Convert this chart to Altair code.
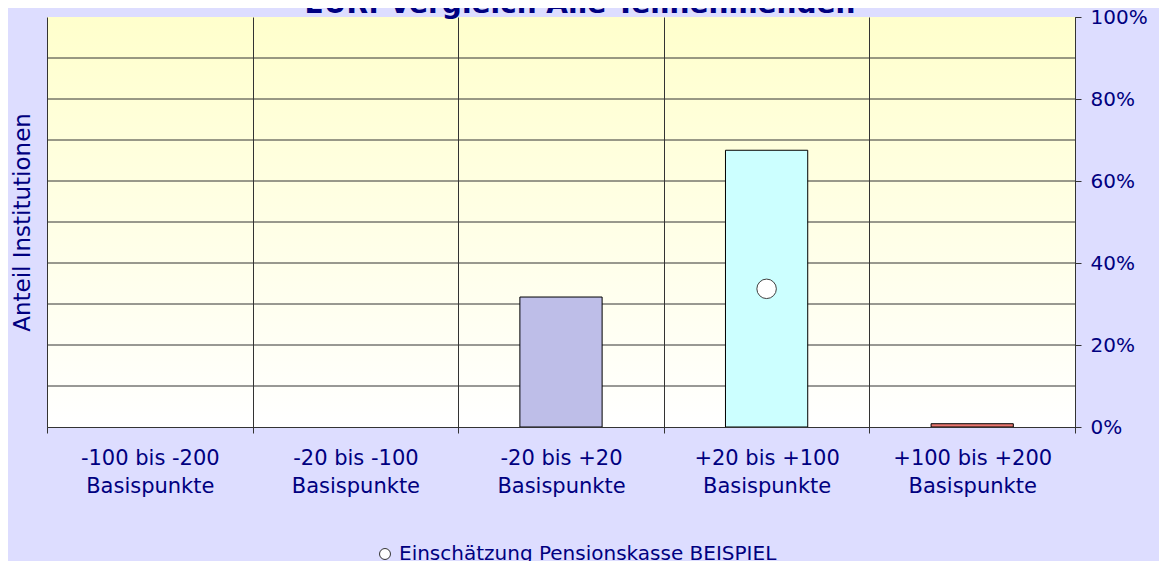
import altair as alt
import pandas as pd

# ---- data ----
chart_title = ["EUR: Vergleich Alle Teilnehmenden"]
categories = [
    "-100 bis -200 Basispunkte",
    "-20 bis -100 Basispunkte",
    "-20 bis +20 Basispunkte",
    "+20 bis +100 Basispunkte",
    "+100 bis +200 Basispunkte",
]
shares = [0.0, 0.0, 0.317, 0.675, 0.008]
bar_colors = ["#9999FF", "#993366", "#BEBEE8", "#CCFFFF", "#E9766F"]

estimate_category = ["+20 bis +100 Basispunkte"]
estimate_value = [0.337]
series_name = ["Einschätzung Pensionskasse BEISPIEL"]

grid_levels = [0.1, 0.2, 0.3, 0.4, 0.5, 0.6, 0.7, 0.8, 0.9]
label_ticks = [0.0, 0.2, 0.4, 0.6, 0.8, 1.0]

TEXT = "#000080"
FONT = "DejaVu Sans"
GRID = "#333333"
W, H = 1028, 410

bars_df = pd.DataFrame({"category": categories, "value": shares})
est_df = pd.DataFrame({"category": estimate_category, "value": estimate_value, "series": series_name})
grid_df = pd.DataFrame({"value": grid_levels})
title_df = pd.DataFrame({"title": chart_title})

x_scale = alt.Scale(domain=categories, paddingInner=0, paddingOuter=0)
y_scale = alt.Scale(domain=[0, 1], nice=False)

x_axis = alt.Axis(
    title=None,
    grid=True,
    gridColor=GRID,
    gridOpacity=1,
    gridWidth=1,
    tickBand="extent",
    tickSize=6,
    tickColor=GRID,
    domainColor=GRID,
    labelAngle=0,
    labelFont=FONT,
    labelFontSize=21,
    labelColor=TEXT,
    labelLineHeight=28,
    labelPadding=14,
    labelExpr=(
        "indexof(datum.label, ' Basispunkte') >= 0 ? "
        "[slice(datum.label, 0, indexof(datum.label, ' Basispunkte')), 'Basispunkte'] : datum.label"
    ),
    zindex=1,
)
y_axis = alt.Axis(
    orient="right",
    values=label_ticks,
    format=".0%",
    grid=False,
    tickSize=6,
    tickColor=GRID,
    domainColor=GRID,
    labelFont=FONT,
    labelFontSize=20,
    labelColor=TEXT,
    labelPadding=9,
    title="Anteil Institutionen",
    titleFont=FONT,
    titleFontSize=23,
    titleFontWeight="normal",
    titleColor=TEXT,
    titleAngle=270,
    titleAlign="center",
    titleBaseline="middle",
    titleX=-1053,
    titleY=205,
    zindex=1,
)

X = alt.X("category:N", scale=x_scale, axis=x_axis, sort=categories)
Y = alt.Y("value:Q", scale=y_scale, axis=y_axis)

bg = alt.Chart(pd.DataFrame({"a": [0]})).mark_rect(
    color=alt.Gradient(
        gradient="linear", x1=0, y1=0, x2=0, y2=1,
        stops=[alt.GradientStop(color="#FFFFCC", offset=0),
               alt.GradientStop(color="#FFFFFF", offset=1)],
    )
).encode(x=alt.value(0), x2=alt.value(W), y=alt.value(0), y2=alt.value(H))

hgrid = alt.Chart(grid_df).mark_rule(color=GRID, strokeWidth=1).encode(y=Y)

bars = alt.Chart(bars_df).transform_filter("datum.value > 0").mark_bar(
    stroke="black", strokeWidth=1, width=alt.RelativeBandSize(0.4)
).encode(
    x=X,
    y=Y,
    color=alt.Color("category:N", scale=alt.Scale(domain=categories, range=bar_colors), legend=None),
)

point = alt.Chart(est_df).mark_point(
    filled=True, shape="circle", size=380, stroke="#404040", strokeWidth=1, opacity=1
).encode(
    x=X,
    y=Y,
    fill=alt.Fill(
        "series:N",
        scale=alt.Scale(domain=series_name, range=["#FFFFFF"]),
        legend=alt.Legend(
            title=None,
            orient="none",
            legendX=328,
            legendY=527,
            symbolType="circle",
            symbolSize=120,
            symbolStrokeColor="#333333",
            symbolStrokeWidth=1,
            symbolFillColor="#FFFFFF",
            labelFont=FONT,
            labelFontSize=20,
            labelColor=TEXT,
            labelOffset=4,
            labelLimit=0,
        ),
    ),
)

title_text = alt.Chart(title_df).mark_text(
    font=FONT, fontSize=28, fontWeight="bold", color=TEXT,
    align="center", baseline="alphabetic",
).encode(
    text="title:N",
    x=alt.value(533),
    y=alt.value(-4),
)

chart = alt.layer(bg, hgrid, bars, point, title_text).properties(
    width=W,
    height=H,
    autosize=alt.AutoSizeParams(type="none"),
    padding={"left": 39, "top": 9, "right": 84, "bottom": 134},
    background="#DDDDFF",
).configure_view(stroke="#808080", strokeWidth=1)

chart.save("out.html", embed_options={"renderer": "svg", "actions": False})
